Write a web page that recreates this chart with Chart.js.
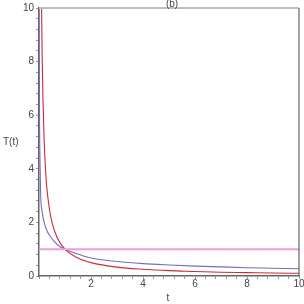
<!DOCTYPE html>
<html>
<head>
<meta charset="utf-8">
<script src="https://cdn.jsdelivr.net/npm/chart.js@4"></script>
<style>
  html, body { margin: 0; padding: 0; background: #fff; }
  #wrap { width: 304px; height: 304px; }
</style>
</head>
<body>
<div id="wrap"><canvas id="chart" width="304" height="304"></canvas></div>
<script>
// ---- data ----
const blueT = [0.005, 0.02, 0.04, 0.065, 0.12, 0.2, 0.3, 0.42, 0.6, 0.8, 1, 1.5, 2, 3, 4, 5, 6, 7, 8, 9, 10];
const blueV = [10, 6, 4.2, 3, 2.4, 2, 1.7, 1.5, 1.27, 1.1, 1, 0.82, 0.67, 0.54, 0.46, 0.41, 0.37, 0.34, 0.31, 0.29, 0.27];
const redT  = [0.1, 0.12, 0.15, 0.2, 0.25, 0.3, 0.4, 0.5, 0.7, 1, 1.5, 2, 3, 4, 5, 6, 7, 8, 9, 10];
const redV  = [10, 8.3, 6.7, 5, 4, 3.3, 2.5, 2, 1.43, 1, 0.67, 0.5, 0.33, 0.25, 0.2, 0.17, 0.14, 0.125, 0.11, 0.1];
const flatT = [0, 10];
const flatV = [1, 1];
const xRange = [0, 10];
const yRange = [0, 10];
const tickStep = 0.4;
const labelStep = 2;

const toPts = (xs, ys) => xs.map((x, i) => ({ x: x, y: ys[i] }));
const isMajor = v => Math.abs(v / labelStep - Math.round(v / labelStep)) < 1e-6;

const font = "Liberation Sans, Arial, sans-serif";
Chart.defaults.font.family = font;

// frame lines + free text (title, axis names)
const framePlugin = {
    id: 'frame',
    afterDraw(chart) {
        const { ctx, chartArea: a } = chart;
        ctx.save();
        ctx.strokeStyle = '#bdbdbd';
        ctx.lineWidth = 2;
        ctx.beginPath();
        ctx.moveTo(a.left, a.top);
        ctx.lineTo(a.right, a.top);
        ctx.stroke();
        ctx.strokeStyle = '#666';
        ctx.lineWidth = 1.2;
        ctx.beginPath();
        ctx.moveTo(a.right, a.top);
        ctx.lineTo(a.right, a.bottom);
        ctx.stroke();

        ctx.fillStyle = '#444';
        ctx.font = '10px ' + font;
        ctx.textAlign = 'center';
        ctx.textBaseline = 'middle';
        ctx.fillText('(b)', 172, 4);
        ctx.fillText('t', 168, 298);
        ctx.textAlign = 'left';
        ctx.fillText('T(t)', 3, 142);
        ctx.restore();
    }
};

new Chart(document.getElementById('chart').getContext('2d'), {
    type: 'scatter',
    data: {
        datasets: [
            {
                data: toPts(flatT, flatV),
                showLine: true,
                borderColor: '#f29ad6',
                borderWidth: 2,
                pointRadius: 0,
            },
            {
                data: toPts(blueT, blueV),
                showLine: true,
                borderColor: '#6f6fbf',
                borderWidth: 1.1,
                pointRadius: 0,
                cubicInterpolationMode: 'monotone',
            },
            {
                data: toPts(redT, redV),
                showLine: true,
                borderColor: '#cc2a3a',
                borderWidth: 1.1,
                pointRadius: 0,
                cubicInterpolationMode: 'monotone',
            }
        ]
    },
    options: {
        responsive: false,
        animation: false,
        clip: false,
        layout: { padding: { left: 0, right: 5, top: 8, bottom: 0 } },
        plugins: {
            legend: { display: false },
            tooltip: { enabled: false },
        },
        scales: {
            x: {
                type: 'linear',
                min: xRange[0],
                max: xRange[1],
                afterFit: s => { s.height = 28; },
                ticks: {
                    stepSize: tickStep,
                    autoSkip: false,
                    maxRotation: 0,
                    padding: -1,
                    color: '#444',
                    font: { size: 10 },
                    callback: v => (isMajor(v) && v !== 0) ? String(Math.round(v)) : '',
                },
                grid: {
                    drawOnChartArea: false,
                    drawTicks: true,
                    tickLength: 3,
                    tickColor: '#999',
                },
                border: { color: '#666', width: 1.5 },
            },
            y: {
                type: 'linear',
                min: yRange[0],
                max: yRange[1],
                afterFit: s => { s.width = 39; },
                ticks: {
                    stepSize: tickStep,
                    autoSkip: false,
                    padding: 2,
                    color: '#444',
                    font: { size: 10 },
                    callback: v => isMajor(v) ? String(Math.round(v)) : '',
                },
                grid: {
                    drawOnChartArea: false,
                    drawTicks: true,
                    tickLength: 3,
                    tickColor: '#999',
                },
                border: { color: '#666', width: 1.5 },
            }
        }
    },
    plugins: [framePlugin]
});
</script>
</body>
</html>
